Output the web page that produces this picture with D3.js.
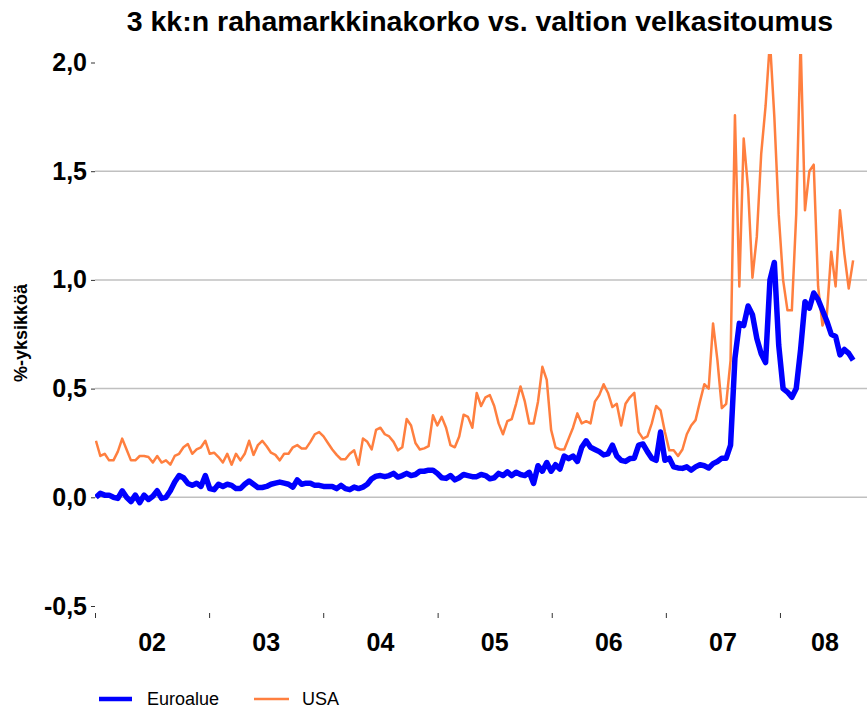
<!DOCTYPE html>
<html>
<head>
<meta charset="utf-8">
<script src="https://cdn.jsdelivr.net/npm/d3@7"></script>
<style>
  body { margin: 0; background: #fff; }
  svg { font-family: "Liberation Sans", Arial, sans-serif; }
</style>
</head>
<body>
<svg id="chart" width="867" height="709"></svg>
<script>
// values, one point every two weeks from 4.1.2002
var startDate = new Date(2002, 0, 4), stepDays = 14;

var euro = [0.0,0.018,0.01,0.01,0.0,-0.005,0.03,0.0,-0.02,0.01,-0.025,0.01,-0.01,0.005,0.03,-0.005,0.0,0.03,0.07,0.10,
  0.09,0.064,0.055,0.065,0.05,0.10,0.04,0.035,0.06,0.05,0.06,0.055,0.04,0.04,0.06,0.075,0.06,0.045,0.045,0.05,
  0.06,0.065,0.07,0.065,0.06,0.047,0.08,0.06,0.065,0.065,0.055,0.055,0.05,0.05,0.05,0.04,0.055,0.04,0.035,0.047,
  0.04,0.047,0.06,0.085,0.097,0.10,0.095,0.10,0.11,0.093,0.10,0.11,0.10,0.105,0.12,0.12,0.125,0.125,0.11,0.09,
  0.087,0.10,0.08,0.09,0.105,0.10,0.095,0.095,0.105,0.10,0.085,0.09,0.11,0.10,0.117,0.10,0.115,0.105,0.10,0.115,
  0.064,0.145,0.12,0.16,0.12,0.15,0.13,0.19,0.178,0.19,0.165,0.23,0.26,0.23,0.22,0.21,0.195,0.20,0.24,0.19,
  0.17,0.165,0.178,0.18,0.24,0.245,0.21,0.18,0.17,0.30,0.17,0.18,0.14,0.135,0.133,0.14,0.125,0.14,0.15,0.145,
  0.135,0.155,0.165,0.18,0.18,0.24,0.64,0.80,0.79,0.88,0.84,0.73,0.66,0.62,1.0,1.08,0.70,0.50,0.484,0.46,
  0.50,0.68,0.90,0.87,0.94,0.91,0.86,0.81,0.75,0.74,0.655,0.68,0.662,0.63];

var usa = [0.26,0.19,0.20,0.17,0.17,0.21,0.27,0.22,0.17,0.17,0.19,0.19,0.185,0.16,0.19,0.16,0.17,0.15,0.19,0.20,
  0.23,0.245,0.20,0.22,0.23,0.26,0.20,0.205,0.185,0.16,0.20,0.15,0.20,0.17,0.20,0.26,0.195,0.24,0.26,0.235,
  0.205,0.195,0.17,0.20,0.20,0.23,0.24,0.225,0.225,0.255,0.29,0.30,0.28,0.25,0.22,0.195,0.175,0.175,0.20,0.216,
  0.15,0.27,0.255,0.22,0.31,0.32,0.29,0.28,0.255,0.216,0.23,0.36,0.33,0.25,0.22,0.225,0.235,0.377,0.33,0.37,
  0.32,0.24,0.23,0.28,0.38,0.37,0.32,0.48,0.42,0.46,0.47,0.42,0.34,0.29,0.35,0.36,0.43,0.51,0.44,0.34,
  0.34,0.44,0.60,0.54,0.31,0.23,0.22,0.22,0.27,0.32,0.386,0.34,0.35,0.34,0.44,0.47,0.52,0.48,0.415,0.43,
  0.33,0.43,0.46,0.48,0.30,0.27,0.28,0.34,0.42,0.40,0.30,0.216,0.216,0.19,0.22,0.29,0.33,0.355,0.44,0.52,
  0.50,0.80,0.63,0.41,0.43,0.63,1.757,0.97,1.65,1.42,1.01,1.20,1.58,1.80,2.1,1.75,1.3,1.0,0.86,0.86,
  1.30,2.1,1.32,1.50,1.53,0.97,0.79,0.84,1.13,0.97,1.32,1.12,0.96,1.09];

var yTicks = [-0.5, 0, 0.5, 1.0, 1.5, 2.0];
var gridVals = [0, 0.5, 1.0, 1.5];
var years = ["02","03","04","05","06","07","08"];
var seriesNames = ["Euroalue", "USA"];
var colors = ["#0000ff", "#ff7f3f"];
var title = "3 kk:n rahamarkkinakorko vs. valtion velkasitoumus";
var yLabel = "%-yksikköä";

var svg = d3.select("#chart");
var left = 95, right = 870, plotTop = 54;

var x = d3.scaleTime()
  .domain([new Date(2002, 0, 1), new Date(2008, 9, 15)])
  .range([left, right]);
var y = d3.scaleLinear().domain([-0.5, 2.0]).range([606, 62.5]);

var fi = d3.formatLocale({decimal: ",", thousands: " ", grouping: [3], currency: ["", ""], minus: "-"}).format(".1f");

// title
svg.append("text")
  .attr("x", 480).attr("y", 31)
  .attr("text-anchor", "middle")
  .style("font-size", "28.5px").style("font-weight", "bold")
  .text(title);

// y label
svg.append("text")
  .attr("transform", "translate(27,333) rotate(-90)")
  .attr("text-anchor", "middle")
  .style("font-size", "18px").style("font-weight", "bold")
  .text(yLabel);

// grid lines
svg.append("g").selectAll("line").data(gridVals).enter().append("line")
  .attr("x1", left).attr("x2", 867)
  .attr("y1", function(d) { return y(d); })
  .attr("y2", function(d) { return y(d); })
  .attr("stroke", "#c0c0c0").attr("stroke-width", 1.5);

// y axis
var yAxis = svg.append("g")
  .attr("transform", "translate(" + left + ",0)")
  .call(d3.axisLeft(y).tickValues(yTicks).tickSize(4).tickPadding(4).tickFormat(fi));
yAxis.select(".domain").remove();
yAxis.selectAll("line").attr("stroke", "#333");
yAxis.selectAll("text")
  .style("font-size", "25px").style("font-weight", "bold")
  .style("font-family", "'Liberation Sans', Arial, sans-serif")
  .attr("fill", "#000");

// x axis: tick marks at year starts, labels centred in each year
var yearStarts = years.map(function(d) { return new Date(2000 + (+d), 0, 1); });
var xAxis = svg.append("g")
  .attr("transform", "translate(0,613)")
  .call(d3.axisBottom(x).tickValues(yearStarts).tickSize(5).tickFormat(""));
xAxis.select(".domain").remove();
xAxis.selectAll("line").attr("stroke", "#333");

svg.append("g").selectAll("text").data(years).enter().append("text")
  .attr("x", function(d, i) {
    var a = x(yearStarts[i]);
    var b = i < years.length - 1 ? x(yearStarts[i + 1]) : right;
    return (a + b) / 2;
  })
  .attr("y", 651)
  .attr("text-anchor", "middle")
  .style("font-size", "25px").style("font-weight", "bold")
  .text(function(d) { return d; });

// lines
svg.append("clipPath").attr("id", "clip")
  .append("rect").attr("x", left).attr("y", plotTop).attr("width", 867 - left).attr("height", 620 - plotTop);

function dateAt(i) { return d3.timeDay.offset(startDate, i * stepDays); }

var line = d3.line()
  .x(function(d, i) { return x(dateAt(i)); })
  .y(function(d) { return y(d); });

var plot = svg.append("g").attr("clip-path", "url(#clip)");
plot.append("path").datum(usa)
  .attr("d", line).attr("fill", "none")
  .attr("stroke", colors[1]).attr("stroke-width", 2.5).attr("stroke-linejoin", "round");
plot.append("path").datum(euro)
  .attr("d", line).attr("fill", "none")
  .attr("stroke", colors[0]).attr("stroke-width", 5.5).attr("stroke-linejoin", "round");

// legend
var legX = [99, 254];
var leg = svg.append("g").selectAll("g").data(seriesNames).enter().append("g")
  .attr("transform", function(d, i) { return "translate(" + legX[i] + ",699)"; });
leg.append("line")
  .attr("x1", 0).attr("x2", function(d, i) { return i == 0 ? 33 : 35; })
  .attr("stroke", function(d, i) { return colors[i]; })
  .attr("stroke-width", function(d, i) { return i == 0 ? 4.5 : 2.5; });
leg.append("text")
  .attr("x", 48)
  .attr("y", 6)
  .style("font-size", "18px")
  .text(function(d) { return d; });
</script>
</body>
</html>
